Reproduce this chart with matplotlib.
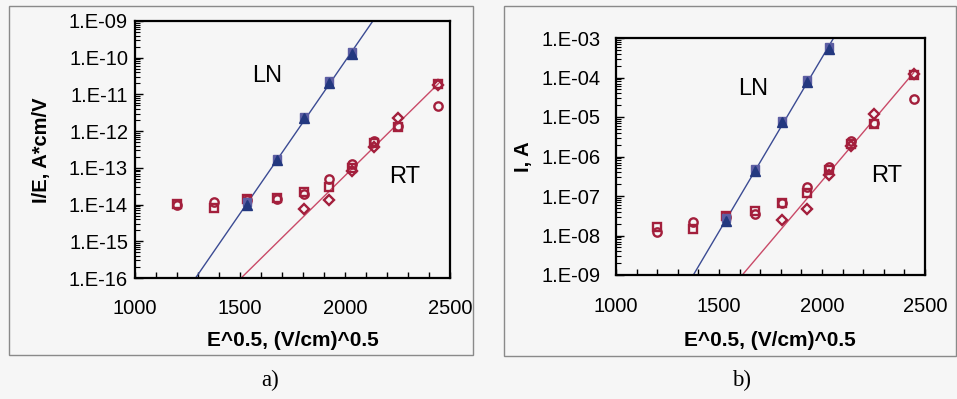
import numpy as np
import matplotlib
matplotlib.use("Agg")
import matplotlib.pyplot as plt
from matplotlib.ticker import FixedLocator, FixedFormatter, MultipleLocator, LogLocator, NullFormatter
from matplotlib.patches import Rectangle

# ---------------- data ----------------
x_rt = [1200, 1375, 1535, 1675, 1805, 1925, 2035, 2140, 2250, 2445]
x_ln = [1535, 1675, 1805, 1925, 2035]

# panel a: I/E, A*cm/V
a_ln_tri = [1.0e-14, 1.6e-13, 2.3e-12, 2.1e-11, 1.3e-10]
a_ln_sq = [1.15e-14, 1.75e-13, 2.5e-12, 2.25e-11, 1.4e-10]
a_rt_sq = [1.05e-14, 8.2e-15, 1.45e-14, 1.5e-14, 2.2e-14, 3.1e-14, 1.0e-13, 4.9e-13, 1.3e-12, 1.9e-11]
a_rt_ci = [9.5e-15, 1.2e-14, 1.3e-14, 1.4e-14, 2.0e-14, 5.0e-14, 1.3e-13, 5.5e-13, 1.4e-12, 4.7e-12]
a_rt_di = [np.nan, np.nan, np.nan, np.nan, 7.8e-15, 1.3e-14, 8.0e-14, 3.8e-13, 2.3e-12, 1.8e-11]

# panel b: I, A
b_ln_tri = [2.3e-8, 4.3e-7, 7.4e-6, 7.7e-5, 5.4e-4]
b_ln_sq = [2.7e-8, 4.7e-7, 8.0e-6, 8.8e-5, 5.9e-4]
b_rt_sq = [1.6e-8, 1.5e-8, 3.1e-8, 4.2e-8, 6.8e-8, 1.17e-7, 4.6e-7, 2.1e-6, 6.6e-6, 1.15e-4]
b_rt_ci = [1.26e-8, 2.2e-8, 2.9e-8, 3.6e-8, 6.5e-8, 1.65e-7, 5.5e-7, 2.4e-6, 7.2e-6, 2.9e-5]
b_rt_di = [np.nan, np.nan, np.nan, np.nan, 2.4e-8, 4.6e-8, 3.4e-7, 1.8e-6, 1.2e-5, 1.2e-4]

a_yticks = [1e-16, 1e-15, 1e-14, 1e-13, 1e-12, 1e-11, 1e-10, 1e-9]
a_ylabels = ["1.E-16", "1.E-15", "1.E-14", "1.E-13", "1.E-12", "1.E-11", "1.E-10", "1.E-09"]
b_yticks = [1e-9, 1e-8, 1e-7, 1e-6, 1e-5, 1e-4, 1e-3]
b_ylabels = ["1.E-09", "1.E-08", "1.E-07", "1.E-06", "1.E-05", "1.E-04", "1.E-03"]
xticks = [1000, 1500, 2000, 2500]
xlabels = ["1000", "1500", "2000", "2500"]

# ---------------- style ----------------
W, H = 957, 399
BG = "#f6f6f6"
BLUE = "#23387f"
BLUE_SQ = "#5d5ea3"
RED = "#a31f3c"
RED_LINE = "#c94a68"
BLUE_LINE = "#3b4b93"
SANS = ["Liberation Sans", "DejaVu Sans"]
SERIF = ["Liberation Serif", "DejaVu Serif"]

fig = plt.figure(figsize=(W / 100, H / 100), dpi=100, facecolor=BG)


def fx(px):
    return px / W


def fy(py):
    return 1 - py / H


def fit_line(x, y, sel):
    xs = np.array(x, float)[sel]
    ys = np.log10(np.array(y, float)[sel])
    k, b = np.polyfit(xs, ys, 1)
    return k, b


def panel(rect, ln_tri, ln_sq, rt_sq, rt_ci, rt_di, ylim, yticks, ylabels, ypad, xpad):
    ax = fig.add_axes(rect, facecolor=BG)
    ax.set_yscale("log")
    ax.set_xlim(1000, 2500)
    ax.set_ylim(*ylim)

    # fit lines
    kb, bb = fit_line(x_ln, ln_tri, slice(None))
    xl = np.linspace(1000, 2500, 200)
    ax.plot(xl, 10 ** (kb * xl + bb), color=BLUE_LINE, lw=1.0, zorder=2)
    di = np.array(rt_di, float)
    sel = ~np.isnan(di)
    kr, br = fit_line(x_rt, rt_di, sel)
    xr = np.linspace(1000, max(x_rt), 200)
    ax.plot(xr, 10 ** (kr * xr + br), color=RED_LINE, lw=1.0, zorder=2)

    ms = 6
    mew = 1.7
    ax.plot(x_rt, rt_sq, ls="none", marker="s", ms=ms - 0.3, mfc="none", mec=RED, mew=mew, zorder=3)
    ax.plot(x_rt, rt_ci, ls="none", marker="o", ms=ms, mfc="none", mec=RED, mew=mew, zorder=3)
    ax.plot(x_rt, rt_di, ls="none", marker="D", ms=ms - 0.5, mfc="none", mec=RED, mew=mew, zorder=3)
    ax.plot(x_ln, ln_sq, ls="none", marker="s", ms=ms - 0.5, mfc=BLUE_SQ, mec=BLUE_SQ, mew=1, zorder=4)
    ax.plot(x_ln, ln_tri, ls="none", marker="^", ms=ms + 1.5, mfc=BLUE, mec=BLUE, mew=1, zorder=5)

    ax.yaxis.set_major_locator(FixedLocator(yticks))
    ax.yaxis.set_major_formatter(FixedFormatter(ylabels))
    ax.yaxis.set_minor_locator(LogLocator(base=10, subs=np.arange(2, 10), numticks=20))
    ax.yaxis.set_minor_formatter(NullFormatter())
    ax.xaxis.set_major_locator(FixedLocator(xticks))
    ax.xaxis.set_major_formatter(FixedFormatter(xlabels))
    ax.xaxis.set_minor_locator(MultipleLocator(100))

    ax.tick_params(axis="y", which="major", direction="in", length=6, width=1.0, pad=ypad,
                   labelsize=14.5, right=False)
    ax.tick_params(axis="y", which="minor", direction="in", length=3.5, width=0.8, right=False)
    ax.tick_params(axis="x", which="both", direction="in", length=4, width=1.0, pad=xpad,
                   labelsize=14.5, top=False)
    for lab in ax.get_xticklabels() + ax.get_yticklabels():
        lab.set_family(SANS)
    for sp in ax.spines.values():
        sp.set_linewidth(1.6)
        sp.set_color("black")
    return ax


# panel a
axa = panel([fx(135), fy(278), fx(450) - fx(135), fy(21) - fy(278)],
            a_ln_tri, a_ln_sq, a_rt_sq, a_rt_ci, a_rt_di,
            (1e-16, 1e-9), a_yticks, a_ylabels, ypad=5, xpad=15)
# panel b
axb = panel([fx(616), fy(275), fx(925) - fx(616), fy(38) - fy(275)],
            b_ln_tri, b_ln_sq, b_rt_sq, b_rt_ci, b_rt_di,
            (1e-9, 1e-3), b_yticks, b_ylabels, ypad=11, xpad=16)

# in-plot labels
fig.text(fx(267), fy(76), "LN", ha="center", va="center", fontsize=17, family=SANS)
fig.text(fx(405), fy(177), "RT", ha="center", va="center", fontsize=17, family=SANS)
fig.text(fx(753), fy(89), "LN", ha="center", va="center", fontsize=17, family=SANS)
fig.text(fx(887), fy(176), "RT", ha="center", va="center", fontsize=17, family=SANS)

# axis labels
fig.text(fx(293), fy(340), "E^0.5, (V/cm)^0.5", ha="center", va="center", fontsize=15,
         fontweight="bold", family=SANS)
fig.text(fx(770), fy(340), "E^0.5, (V/cm)^0.5", ha="center", va="center", fontsize=15,
         fontweight="bold", family=SANS)
fig.text(fx(42), fy(150), "I/E, A*cm/V", ha="center", va="center", rotation=90, fontsize=14.5,
         fontweight="bold", family=SANS)
fig.text(fx(523), fy(157), "I, A", ha="center", va="center", rotation=90, fontsize=14.5,
         fontweight="bold", family=SANS)

# captions
fig.text(fx(270), fy(380), "a)", ha="center", va="center", fontsize=16.5, family=SERIF)
fig.text(fx(742), fy(380), "b)", ha="center", va="center", fontsize=16.5, family=SERIF)

# outer boxes
fig.add_artist(Rectangle((fx(9), fy(355)), fx(473) - fx(9), fy(6) - fy(355), transform=fig.transFigure,
                         fill=False, edgecolor="#8a8a8a", lw=1.0))
fig.add_artist(Rectangle((fx(504), fy(356)), fx(956) - fx(504), fy(6) - fy(356), transform=fig.transFigure,
                         fill=False, edgecolor="#8a8a8a", lw=1.0))

fig.savefig("out.png", dpi=100, facecolor=BG)
